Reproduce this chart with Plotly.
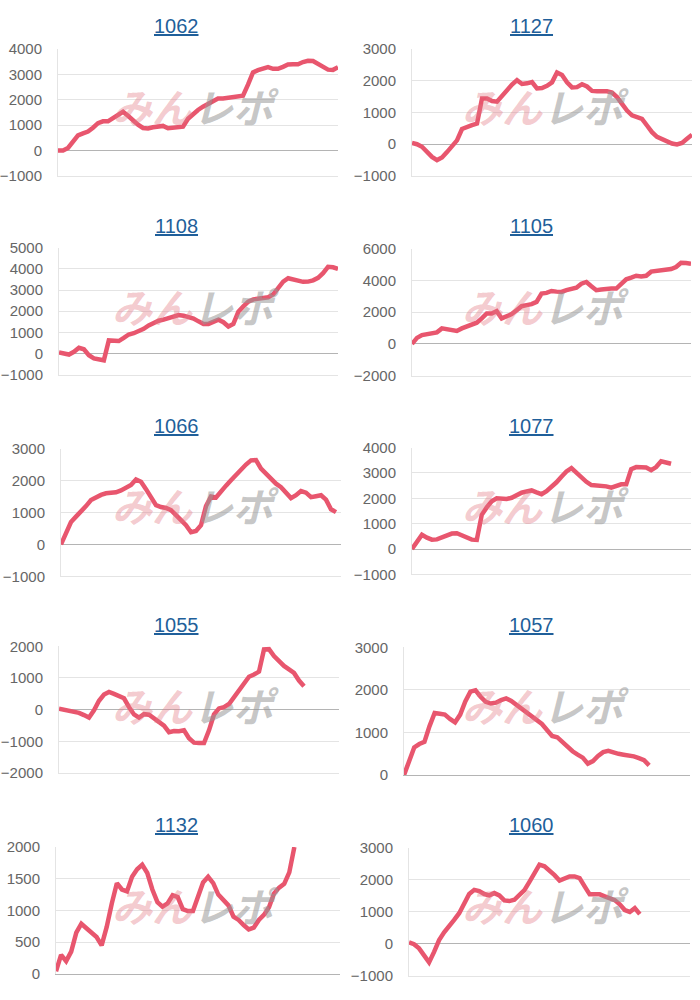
import plotly.graph_objects as go

# ---------------- data ----------------
titles = ["1062", "1127", "1108", "1105", "1066", "1077", "1055", "1057", "1132", "1060"]
slots = list(range(57))  # common x positions (time slots)

s1062 = [0, 0, 100, 350, 600, 680, 750, 900, 1080, 1150, 1150, 1280, 1400, 1530, 1370,
         1180, 1020, 890, 870, 920, 940, 970, 880, 890, 890, 940, 1250, 1440, 1600, 1730,
         1840, 1940, 2050, 2050, 2070, 2100, 2130, 2160, 2600, 3080, 3170, 3230, 3290, 3220, 3220,
         3300, 3390, 3400, 3400, 3490, 3540, 3530, 3430, 3300, 3190, 3180, 3280]
s1127 = [40, 0, -80, -240, -400, -500, -420, -250, -80, 120, 480, 560, 600, 650, 1440,
         1440, 1360, 1340, 1520, 1730, 1880, 2020, 1900, 1920, 1960, 1760, 1770, 1840, 1950, 2260,
         2180, 1950, 1790, 1800, 1890, 1820, 1680, 1670, 1670, 1670, 1630, 1490, 1270, 1060, 910,
         850, 800, 590, 380, 230, 150, 80, 20, -10, 40, 170, 300]
s1108 = [50, 0, -50, 80, 270, 200, -80, -230, -280, -320, 620, 600, 590, 740, 900,
         960, 1040, 1170, 1330, 1470, 1550, 1600, 1680, 1760, 1820, 1790, 1730, 1650, 1520, 1400,
         1400, 1520, 1600, 1480, 1280, 1400, 1980, 2230, 2450, 2560, 2600, 2640, 2660, 2800, 3120,
         3400, 3560, 3510, 3420, 3390, 3400, 3460, 3580, 3800, 4100, 4080, 4000]
s1105 = [0, 380, 560, 630, 670, 730, 980, 920, 840, 820, 980, 1090, 1190, 1340, 1610,
         1920, 1920, 2070, 1610, 1710, 1880, 2130, 2380, 2450, 2510, 2650, 3180, 3220, 3340, 3300,
         3280, 3390, 3450, 3550, 3800, 3910, 3640, 3390, 3430, 3490, 3490, 3490, 3800, 4080, 4180,
         4300, 4250, 4300, 4560, 4600, 4600, 4650, 4720, 4850, 5120, 5100, 5060]
s1066 = [0, 330, 700, 870, 1020, 1200, 1390, 1480, 1550, 1600, 1610, 1630, 1690, 1760, 1860,
         2030, 1960, 1730, 1460, 1230, 1170, 1140, 1070, 930, 760, 600, 380, 420, 600, 1200,
         1500, 1470, 1670, 1840, 2010, 2180, 2380, 2500, 2630, 2640, 2370, 2200, 2050, 1900, 1790,
         1630, 1450, 1540, 1670, 1620, 1480, 1510, 1540, 1400, 1100, 1010]
s1077 = [0, 250, 560, 450, 370, 380, 470, 530, 610, 620, 530, 450, 370, 360, 1350,
         1640, 1880, 2000, 2000, 1970, 2020, 2120, 2220, 2270, 2310, 2230, 2160, 2280, 2450, 2630,
         2850, 3060, 3190, 3000, 2790, 2650, 2520, 2510, 2510, 2470, 2420, 2500, 2550, 2550, 3150,
         3230, 3230, 3210, 3110, 3230, 3460, 3420, 3360]
s1055 = [30, 0, -20, -60, -100, -170, -250, -20, 280, 480, 560, 500, 430, 360, 80,
         -150, -250, -140, -160, -270, -370, -500, -710, -670, -680, -650, -900, -1040, -1050, -1050,
         -650, -150, 40, 80, 180, 390, 630, 860, 1040, 1110, 1200, 1900, 1910, 1690, 1520,
         1380, 1270, 1160, 920, 740]
s1057 = [0, 300, 650, 730, 780, 1150, 1460, 1440, 1420, 1320, 1240, 1420, 1730, 1960, 1990,
         1840, 1720, 1680, 1700, 1760, 1800, 1740, 1650, 1580, 1500, 1410, 1320, 1200, 1060, 920,
         890, 780, 660, 560, 480, 410, 270, 330, 450, 540, 570, 530, 500, 480, 470,
         440, 400, 350, 230]
s1132 = [40, 300, 200, 350, 650, 790, 720, 650, 580, 450, 740, 1110, 1430, 1330, 1300,
         1530, 1650, 1720, 1590, 1330, 1130, 1060, 1110, 1240, 1210, 1020, 990, 990, 1200, 1440,
         1530, 1430, 1250, 1170, 1080, 900, 850, 770, 700, 730, 850, 930, 1050, 1270, 1360,
         1420, 1600, 2000]
s1060 = [50, -10, -140, -340, -580, -250, 120, 360, 540, 750, 960, 1240, 1560, 1690, 1650,
         1560, 1520, 1590, 1520, 1360, 1340, 1380, 1520, 1680, 1940, 2200, 2480, 2430, 2310, 2150,
         1980, 2040, 2110, 2110, 2060, 1800, 1550, 1550, 1550, 1490, 1440, 1370, 1240, 1060, 1000,
         1120, 930]

y_min = [-1000, -1000, -1000, -2000, -1000, -1000, -2000, 0, 0, -1000]
y_max = [4000, 3000, 5000, 6000, 3000, 4000, 2000, 3000, 2000, 3000]
y_step = [1000, 1000, 1000, 2000, 1000, 1000, 1000, 1000, 500, 1000]

series = [s1062, s1127, s1108, s1105, s1066, s1077, s1055, s1057, s1132, s1060]

# ---------------- layout (pixel boxes of each plot area) ----------------
W, H = 700, 1000
boxes = [  # left, right, top, bottom in px (target picture)
    (58, 338, 48, 175), (412, 692, 48, 175),
    (59, 338, 247, 374), (412, 691, 248, 375),
    (61, 341, 448, 576), (412, 691, 447, 574),
    (59, 339, 646, 773), (404, 690, 647, 775),
    (56, 340, 847, 974), (409, 690, 848, 976),
]


def vy(target_px):
    """Convert a target vertical pixel position to a paper fraction,
    compensating the small vertical rescale seen in the photographed page."""
    page_px = (target_px - 7.87) / 0.9843
    return 1 - page_px / H


LINE = "#e8566e"
GRID = "#e4e4e4"
ZERO = "#b4b4b4"
TICKFONT = dict(family="Liberation Sans, Arial, sans-serif", size=15, color="#666666")

fig = go.Figure()
annotations = []
for k, (vals, title) in enumerate(zip(series, titles)):
    n = k + 1
    xa = "x" if n == 1 else f"x{n}"
    ya = "y" if n == 1 else f"y{n}"
    fig.add_trace(go.Scatter(
        x=slots[:len(vals)], y=vals, mode="lines", xaxis=xa, yaxis=ya,
        line=dict(color=LINE, width=4.5), hoverinfo="skip", showlegend=False,
    ))
    l, r, t, b = boxes[k]
    xkey = "xaxis" if n == 1 else f"xaxis{n}"
    ykey = "yaxis" if n == 1 else f"yaxis{n}"
    fig.layout[xkey] = dict(
        domain=[l / W, r / W], anchor=ya, range=[slots[0], slots[-1]],
        showgrid=False, zeroline=False, showticklabels=False, ticks="",
        showline=True, linecolor=(ZERO if y_min[k] == 0 else GRID), linewidth=1,
        fixedrange=True,
    )
    fig.layout[ykey] = dict(
        domain=[vy(b), vy(t)], anchor=xa,
        range=[y_min[k], y_max[k]], tick0=y_min[k], dtick=y_step[k],
        showgrid=True, gridcolor=GRID, gridwidth=1,
        zeroline=True, zerolinecolor=ZERO, zerolinewidth=1,
        showline=True, linecolor=GRID, linewidth=1,
        ticks="", ticklabelstandoff=12, tickfont=TICKFONT,
        fixedrange=True,
    )
    col = k % 2
    row = k // 2
    cell_left = col * 350
    cell_top = row * 200
    # title (underlined link-style)
    annotations.append(dict(
        text=f"<u>{title}</u>", x=(cell_left + 177 + (4 if col else 0)) / W,
        y=vy(cell_top + 25), xref="paper", yref="paper",
        showarrow=False, xanchor="center", yanchor="middle",
        font=dict(family="Liberation Sans, Arial, sans-serif", size=20, color="#1f5f9a"),
    ))
    # watermark
    annotations.append(dict(
        text="みん", x=(cell_left + 152) / W, y=vy(cell_top + 105),
        xref="paper", yref="paper", showarrow=False, xanchor="center", yanchor="middle",
        font=dict(family="Noto Sans CJK JP", size=40, color="rgba(226,120,132,0.40)",
                  weight="bold", style="italic"),
    ))
    annotations.append(dict(
        text="レポ", x=(cell_left + 236) / W, y=vy(cell_top + 105),
        xref="paper", yref="paper", showarrow=False, xanchor="center", yanchor="middle",
        font=dict(family="Noto Sans CJK JP", size=40, color="rgba(150,150,150,0.55)",
                  weight="bold", style="italic"),
    ))

fig.update_layout(
    width=W, height=H, margin=dict(l=0, r=0, t=0, b=0),
    paper_bgcolor="white", plot_bgcolor="white",
    annotations=annotations, showlegend=False,
)
fig.write_html(
    "out.html",
    config={"displayModeBar": False},
    post_script="document.body.style.margin='0';document.body.style.overflow='hidden';",
)
